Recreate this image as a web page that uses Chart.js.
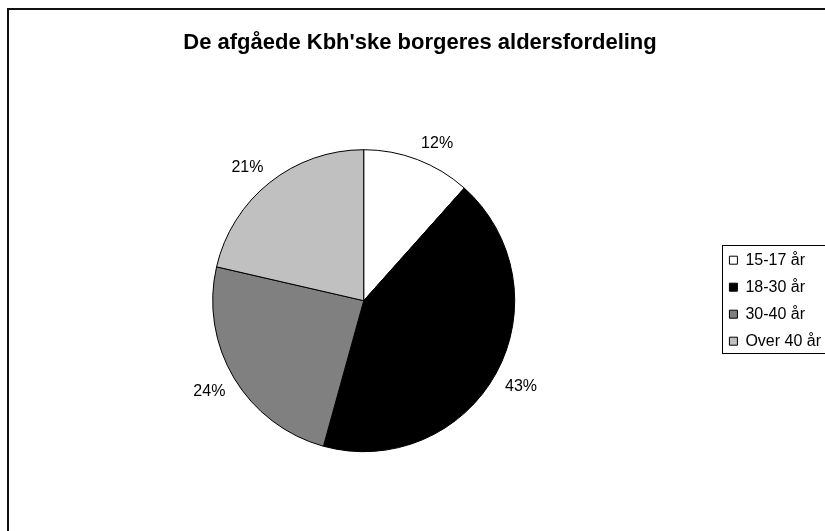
<!DOCTYPE html>
<html>
<head>
<meta charset="utf-8">
<script src="https://cdn.jsdelivr.net/npm/chart.js@4/dist/chart.umd.min.js"></script>
<style>
    html, body { margin: 0; padding: 0; background: #fff; }
    #wrap { width: 825px; height: 531px; overflow: hidden; position: relative; }
    #chart { display: block; }
</style>
</head>
<body>
<div id="wrap"><canvas id="chart" width="846" height="531"></canvas></div>
<script>
const chartTitle = "De afgåede Kbh'ske borgeres aldersfordeling";
const ageGroups = ['15-17 år', '18-30 år', '30-40 år', 'Over 40 år'];
// shares (labels round them)
const shares = [11.6, 42.7, 24.3, 21.4];
const sliceColors = ['#ffffff', '#000000', '#808080', '#c0c0c0'];

const FONT = "'Liberation Sans', Arial, sans-serif";

// frame around the chart (right and bottom edge fall outside the picture)
const framePlugin = {
    id: 'frame',
    beforeDraw(chart) {
        const ctx = chart.ctx;
        ctx.save();
        ctx.strokeStyle = '#111';
        ctx.lineWidth = 2;
        ctx.beginPath();
        ctx.moveTo(8, chart.height + 5);
        ctx.lineTo(8, 9);
        ctx.lineTo(chart.width + 5, 9);
        ctx.stroke();
        ctx.restore();
    }
};

// box round the legend
const legendBoxPlugin = {
    id: 'legendBox',
    afterDraw(chart) {
        const boxes = chart.legend.legendHitBoxes;
        if (!boxes || !boxes.length) return;
        const left = Math.min(...boxes.map(b => b.left)) - 7;
        const top = Math.min(...boxes.map(b => b.top)) - 7;
        const bottom = Math.max(...boxes.map(b => b.top + b.height)) + 4;
        const ctx = chart.ctx;
        ctx.save();
        ctx.strokeStyle = '#000';
        ctx.lineWidth = 1;
        ctx.strokeRect(Math.round(left) + 0.5, Math.round(top) + 0.5, chart.width, Math.round(bottom - top));
        ctx.restore();
    }
};

// percentage labels outside each slice, nearest corner of the text at the anchor
const outsideLabels = {
    id: 'outsideLabels',
    afterDatasetsDraw(chart) {
        const ctx = chart.ctx;
        const meta = chart.getDatasetMeta(0);
        const data = chart.data.datasets[0].data;
        const total = data.reduce((a, b) => a + b, 0);
        ctx.save();
        ctx.font = '16px ' + FONT;
        ctx.fillStyle = '#000';
        ctx.textAlign = 'center';
        ctx.textBaseline = 'middle';
        meta.data.forEach((arc, i) => {
            const p = arc.getProps(['x', 'y', 'startAngle', 'endAngle', 'outerRadius'], true);
            const mid = (p.startAngle + p.endAngle) / 2;
            const text = Math.round(data[i] / total * 100) + '%';
            const w = ctx.measureText(text).width;
            const r = p.outerRadius + 10;
            const x = p.x + Math.cos(mid) * r + Math.sign(Math.cos(mid)) * w / 2;
            const y = p.y + Math.sin(mid) * r + Math.sign(Math.sin(mid)) * 8;
            ctx.fillText(text, x, y + 1);
        });
        ctx.restore();
    }
};

new Chart(document.getElementById('chart'), {
    type: 'pie',
    data: {
        labels: ageGroups,
        datasets: [{
            data: shares,
            backgroundColor: sliceColors,
            borderColor: '#000',
            borderWidth: 1,
            radius: 151
        }]
    },
    options: {
        responsive: false,
        animation: false,
        layout: { padding: { left: 9, right: 15, bottom: 0, top: 0 } },
        plugins: {
            title: {
                display: true,
                text: chartTitle,
                color: '#000',
                font: { family: FONT, size: 22, weight: 'bold' },
                padding: { top: 30, bottom: 14 }
            },
            legend: {
                position: 'right',
                fullSize: false,
                labels: {
                    color: '#000',
                    font: { family: FONT, size: 16 },
                    boxWidth: 8,
                    boxHeight: 8,
                    padding: 11
                }
            },
            tooltip: { enabled: false }
        }
    },
    plugins: [framePlugin, legendBoxPlugin, outsideLabels]
});
</script>
</body>
</html>
